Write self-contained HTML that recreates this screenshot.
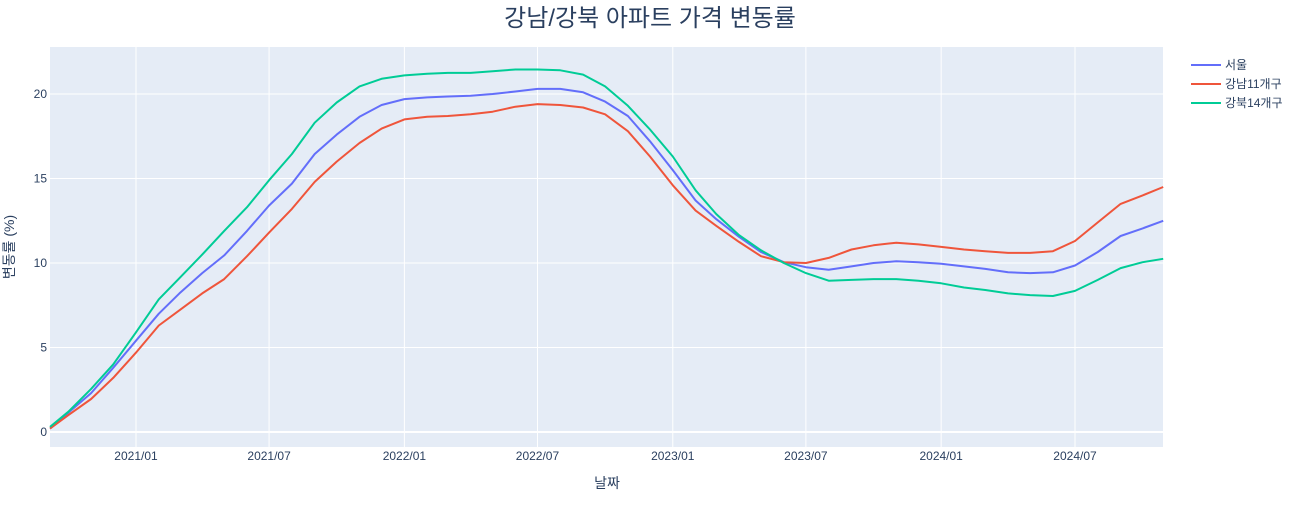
<!DOCTYPE html>
<html><head><meta charset="utf-8"><style>
body{margin:0;background:#fff;}
svg text{font-family:"Liberation Sans","Noto Sans CJK KR",sans-serif;fill:#2a3f5f;}
</style></head><body>
<svg id="chart" width="1300" height="500" xmlns="http://www.w3.org/2000/svg">
<rect x="0" y="0" width="1300" height="500" fill="#fff"/>
<rect x="50" y="47" width="1113" height="400" fill="#E5ECF6"/>
<g id="grid"></g><g id="lines"></g><g id="ticks"></g>
<text x="650" y="26" text-anchor="middle" font-size="24">강남/강북 아파트 가격 변동률</text>
<text x="607" y="488" text-anchor="middle" font-size="14">날짜</text>
<text x="0" y="0" transform="translate(14,247) rotate(-90)" text-anchor="middle" font-size="14">변동률 (%)</text>
<g id="legend"></g>
</svg>
<script>
const dates=["2020-09-06","2020-10-01","2020-11-01","2020-12-01","2021-01-01","2021-02-01","2021-03-01","2021-04-01","2021-05-01","2021-06-01","2021-07-01","2021-08-01","2021-09-01","2021-10-01","2021-11-01","2021-12-01","2022-01-01","2022-02-01","2022-03-01","2022-04-01","2022-05-01","2022-06-01","2022-07-01","2022-08-01","2022-09-01","2022-10-01","2022-11-01","2022-12-01","2023-01-01","2023-02-01","2023-03-01","2023-04-01","2023-05-01","2023-06-01","2023-07-01","2023-08-01","2023-09-01","2023-10-01","2023-11-01","2023-12-01","2024-01-01","2024-02-01","2024-03-01","2024-04-01","2024-05-01","2024-06-01","2024-07-01","2024-08-01","2024-09-01","2024-10-01","2024-10-29"];
const seoul=[0.2,1.15,2.3,3.8,5.4,7.0,8.2,9.4,10.45,11.9,13.4,14.7,16.45,17.6,18.65,19.35,19.7,19.8,19.85,19.9,20.0,20.15,20.3,20.3,20.1,19.55,18.7,17.2,15.5,13.7,12.6,11.55,10.65,10.05,9.75,9.6,9.8,10.0,10.1,10.05,9.95,9.8,9.65,9.45,9.4,9.45,9.85,10.65,11.6,12.05,12.5];
const gangnam=[0.2,1.0,1.95,3.2,4.7,6.3,7.2,8.2,9.05,10.4,11.8,13.2,14.8,16.0,17.1,17.95,18.5,18.65,18.7,18.8,18.95,19.25,19.4,19.35,19.2,18.8,17.8,16.3,14.6,13.1,12.2,11.25,10.4,10.05,10.0,10.3,10.8,11.05,11.2,11.1,10.95,10.8,10.7,10.6,10.6,10.7,11.3,12.4,13.5,14.0,14.5];
const gangbuk=[0.3,1.2,2.55,4.0,5.9,7.85,9.1,10.5,11.9,13.3,14.9,16.45,18.3,19.5,20.45,20.9,21.1,21.2,21.25,21.25,21.35,21.45,21.45,21.4,21.15,20.45,19.3,17.9,16.3,14.3,12.9,11.65,10.75,10.0,9.4,8.95,9.0,9.05,9.05,8.95,8.8,8.55,8.4,8.2,8.1,8.05,8.35,9.0,9.7,10.05,10.25];
const seriesNames=["서울","강남11개구","강북14개구"];
const yTicks=[0,5,10,15,20];
const xTickDates=["2021-01-01","2021-07-01","2022-01-01","2022-07-01","2023-01-01","2023-07-01","2024-01-01","2024-07-01"];
const xTickLabels=["2021/01","2021/07","2022/01","2022/07","2023/01","2023/07","2024/01","2024/07"];

const colors=["#636efa","#EF553B","#00cc96"];
const NS="http://www.w3.org/2000/svg";
const t0=Date.parse("2021-01-01"),pxPerDay=939/1277;
function xs(d){return 136+(Date.parse(d)-t0)/86400000*pxPerDay;}
function ys(v){return 432-v*16.9;}
function mk(tag,attrs,parent){const e=document.createElementNS(NS,tag);for(const k in attrs)e.setAttribute(k,attrs[k]);parent.appendChild(e);return e;}
const grid=document.getElementById('grid'),ticks=document.getElementById('ticks'),lines=document.getElementById('lines'),legend=document.getElementById('legend');
yTicks.forEach(v=>{
  const l=mk('line',{x1:50,x2:1163,y1:ys(v),y2:ys(v),stroke:'#fff','stroke-width':v===0?2:1},grid);
  
  
  const t=mk('text',{x:47,y:ys(v)+4,'text-anchor':'end','font-size':12},ticks);
  t.textContent=v;
  
  
});
xTickDates.forEach((d,i)=>{
  const l=mk('line',{x1:xs(d),x2:xs(d),y1:47,y2:447,stroke:'#fff','stroke-width':1},grid);
  
  
  const t=mk('text',{x:xs(d),y:460,'text-anchor':'middle','font-size':12},ticks);
  t.textContent=xTickLabels[i];
  
  
});
[seoul,gangnam,gangbuk].forEach((vals,s)=>{
  const pts=vals.map((v,i)=>xs(dates[i]).toFixed(1)+','+ys(v).toFixed(1)).join(' ');
  const p=mk('polyline',{points:pts,fill:'none',stroke:colors[s],'stroke-width':2,'stroke-linejoin':'round'},lines);
  
  
  const ly=65+s*19;
  const ll=mk('line',{x1:1191,x2:1221,y1:ly,y2:ly,stroke:colors[s],'stroke-width':2},legend);
  
  
  const lt=mk('text',{x:1225,y:ly+4,'font-size':12},legend);
  lt.textContent=seriesNames[s];
  
  
});
</script>
</body></html>
